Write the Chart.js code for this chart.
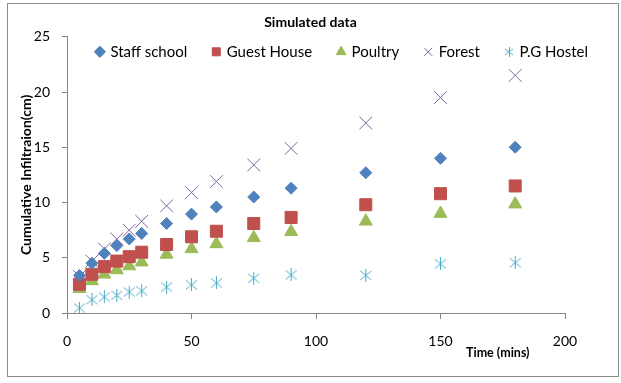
<!DOCTYPE html>
<html>
<head>
<meta charset="utf-8">
<script src="https://cdn.jsdelivr.net/npm/chart.js@4/dist/chart.umd.min.js"></script>
<style>
  html, body { margin: 0; padding: 0; background: #fff; }
  #wrap { position: relative; width: 621px; height: 383px; }
  #frame { position: absolute; left: 7px; top: 3px; width: 610px; height: 372px; border: 1px solid #8c8c8c; pointer-events: none; }
</style>
</head>
<body>
<div id="wrap">
  <canvas id="myChart" width="621" height="383"></canvas>
  <div id="frame"></div>
</div>
<script>
const chartTitle = "Simulated data";
const xTitle = "Time (mins)";
const yTitle = "Cumulative Infiltraion(cm)";

const timeMins = [5, 10, 15, 20, 25, 30, 40, 50, 60, 75, 90, 120, 150, 180];

const staffSchool = [3.4, 4.5, 5.4, 6.1, 6.7, 7.2, 8.1, 8.95, 9.6, 10.5, 11.3, 12.7, 14.0, 15.0];
const guestHouse = [2.6, 3.5, 4.2, 4.7, 5.1, 5.5, 6.2, 6.9, 7.4, 8.1, 8.65, 9.8, 10.8, 11.5];
const poultry = [2.2, 2.9, 3.5, 3.9, 4.25, 4.6, 5.3, 5.8, 6.25, 6.8, 7.35, 8.3, 9.0, 9.85];
const forest = [3.3, 4.7, 5.8, 6.7, 7.5, 8.3, 9.7, 10.9, 11.9, 13.4, 14.9, 17.2, 19.5, 21.5];
const pgHostel = [0.45, 1.2, 1.45, 1.6, 1.9, 2.0, 2.35, 2.55, 2.72, 3.15, 3.45, 3.4, 4.45, 4.55];

const xTicks = [0, 50, 100, 150, 200];
const yTicks = [0, 5, 10, 15, 20, 25];

const FONT = "Lato, 'Liberation Sans', sans-serif";
const AXIS_COLOR = "#868686";
const LEGEND_PAD = 26;

// excel style star: vertical bar + two diagonals
function makeStar(size, color) {
  const c = document.createElement("canvas");
  c.width = size;
  c.height = size;
  const g = c.getContext("2d");
  const m = Math.floor(size / 2) + 0.5;
  g.strokeStyle = color;
  g.lineWidth = 1;
  g.beginPath();
  g.moveTo(m, 0);
  g.lineTo(m, size);
  g.moveTo(1, 2);
  g.lineTo(size - 1, size - 2);
  g.moveTo(size - 1, 2);
  g.lineTo(1, size - 2);
  g.stroke();
  return c;
}

const starBig = makeStar(13, "#4BACC6");
const starSmall = makeStar(10, "#4BACC6");

const toPoints = (ys) => timeMins.map((t, i) => ({ x: t, y: ys[i] }));

// legend drawn inside the plot area: it takes no layout height
const legendInside = {
  id: "legendInside",
  beforeLayout(chart) {
    const leg = chart.legend;
    if (leg && !leg._patched) {
      const origFit = leg.fit;
      leg.fit = function () {
        origFit.call(this);
        this._realHeight = this.height;
        this.height = 0;
      };
      leg._patched = true;
    }
  },
  afterLayout(chart) {
    const leg = chart.legend;
    if (leg) {
      leg.top = chart.chartArea.top + 15 - LEGEND_PAD - 7.5;
      leg.height = leg._realHeight;
      leg.bottom = leg.top + leg.height;
    }
  },
  afterDraw(chart) {
    const ctx = chart.ctx;
    const xs = chart.scales.x;
    ctx.save();
    ctx.font = "bold 12.5px " + FONT;
    ctx.fillStyle = "#000";
    ctx.textAlign = "center";
    ctx.textBaseline = "middle";
    ctx.fillText(xTitle, xs.getPixelForValue(173), chart.chartArea.bottom + 40);
    ctx.restore();
  },
};

const ctx = document.getElementById("myChart").getContext("2d");

const myChart = new Chart(ctx, {
  type: "scatter",
  data: {
    datasets: [
      {
        label: "Staff school",
        data: toPoints(staffSchool),
        pointStyle: "rectRot",
        pointRadius: 6,
        borderWidth: 1,
        backgroundColor: "#4F81BD",
        borderColor: "#4F81BD",
      },
      {
        label: "Guest House",
        data: toPoints(guestHouse),
        pointStyle: "rect",
        pointRadius: 8.5,
        borderWidth: 1,
        backgroundColor: "#C0504D",
        borderColor: "#C0504D",
      },
      {
        label: "Poultry",
        data: toPoints(poultry),
        pointStyle: "triangle",
        pointRadius: 7.5,
        borderWidth: 1,
        backgroundColor: "#9BBB59",
        borderColor: "#9BBB59",
      },
      {
        label: "Forest",
        data: toPoints(forest),
        pointStyle: "crossRot",
        pointRadius: 9,
        borderWidth: 1,
        backgroundColor: "#8064A2",
        borderColor: "#8064A2",
      },
      {
        label: "P.G Hostel",
        data: toPoints(pgHostel),
        pointStyle: starBig,
        pointRadius: 7,
        borderWidth: 1,
        backgroundColor: "#4BACC6",
        borderColor: "#4BACC6",
      },
    ],
  },
  options: {
    responsive: false,
    animation: false,
    layout: { padding: { left: 7, right: 7, top: 0, bottom: 7 } },
    plugins: {
      title: {
        display: true,
        text: chartTitle,
        color: "#000",
        font: { family: FONT, size: 14, weight: "bold" },
        padding: { top: 14, bottom: 6 },
      },
      legend: {
        position: "top",
        align: "end",
        labels: {
          usePointStyle: true,
          boxWidth: 6,
          boxHeight: 8,
          padding: LEGEND_PAD,
          color: "#000",
          font: { family: FONT, size: 15 },
          generateLabels(chart) {
            const items = Chart.defaults.plugins.legend.labels.generateLabels(chart);
            items.forEach((it) => {
              if (it.pointStyle instanceof HTMLCanvasElement) it.pointStyle = starSmall;
            });
            return items;
          },
        },
      },
      tooltip: { enabled: false },
    },
    scales: {
      x: {
        type: "linear",
        min: 0,
        max: 200,
        afterBuildTicks(scale) {
          scale.ticks = xTicks.map((v) => ({ value: v }));
        },
        afterFit(scale) {
          scale.height = 63;
          scale.paddingRight = 56;
        },
        grid: { drawOnChartArea: false, drawTicks: true, tickLength: 6, color: AXIS_COLOR },
        border: { color: AXIS_COLOR },
        ticks: { color: "#000", padding: 14, maxRotation: 0, font: { family: FONT, size: 14 } },
      },
      y: {
        type: "linear",
        min: 0,
        max: 25,
        afterBuildTicks(scale) {
          scale.ticks = yTicks.map((v) => ({ value: v }));
        },
        afterFit(scale) {
          scale.width = 60;
        },
        grid: { drawOnChartArea: false, drawTicks: true, tickLength: 5, color: AXIS_COLOR },
        border: { color: AXIS_COLOR },
        ticks: { color: "#000", padding: 12, font: { family: FONT, size: 14 } },
        title: {
          display: true,
          text: yTitle,
          color: "#000",
          font: { family: FONT, size: 14, weight: "bold" },
          padding: { top: 11, bottom: 0 },
        },
      },
    },
  },
  plugins: [legendInside],
});
</script>
</body>
</html>
